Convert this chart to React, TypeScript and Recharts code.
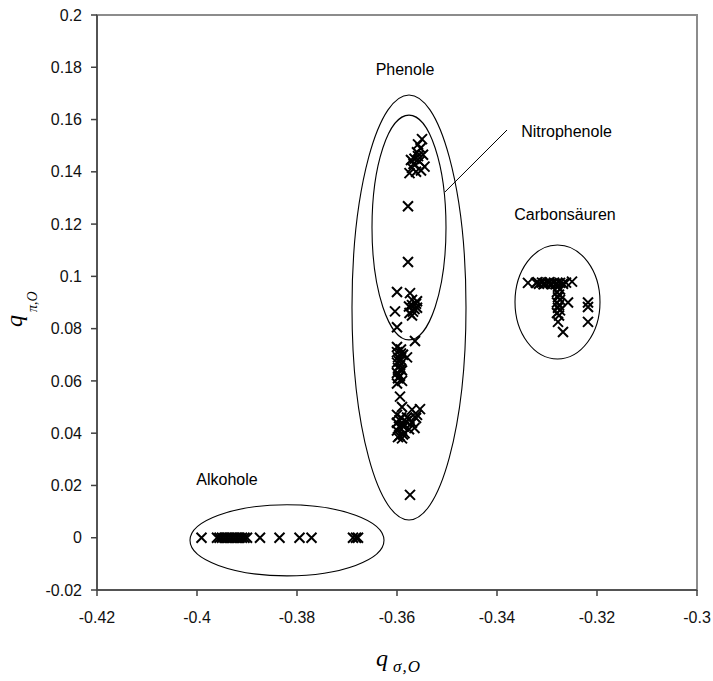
import {
  ScatterChart,
  Scatter,
  XAxis,
  YAxis,
  ReferenceArea,
  ReferenceLine,
  ReferenceDot,
  Label,
} from "recharts"

type Pt = { x: number; y: number }

// x ticks / y ticks
const xTicks = [-0.42, -0.4, -0.38, -0.36, -0.34, -0.32, -0.3]
const yTicks = [-0.02, 0, 0.02, 0.04, 0.06, 0.08, 0.1, 0.12, 0.14, 0.16, 0.18, 0.2]

// Alkohole: all at q_pi = 0
const alkoholeX = [
  -0.3991, -0.396, -0.3955, -0.395, -0.3945, -0.394, -0.3935, -0.393,
  -0.3925, -0.392, -0.3915, -0.391, -0.3905, -0.39, -0.3874, -0.3835,
  -0.3795, -0.3771, -0.3688, -0.3682, -0.3678,
]

// Phenole incl. Nitrophenole
const phenole: [number, number][] = [
  [-0.355, 0.1525], [-0.3553, 0.149], [-0.3548, 0.1465], [-0.356, 0.1475],
  [-0.3565, 0.145], [-0.3555, 0.144], [-0.3545, 0.142], [-0.357, 0.1415],
  [-0.3562, 0.14], [-0.3575, 0.1395], [-0.3558, 0.146], [-0.3567, 0.143],
  [-0.3572, 0.1445], [-0.3558, 0.1505], [-0.3552, 0.1405],
  [-0.3578, 0.1268], [-0.3578, 0.1055],
  [-0.36, 0.094], [-0.3574, 0.0936], [-0.3604, 0.0866], [-0.356, 0.0905],
  [-0.357, 0.089], [-0.3565, 0.0875], [-0.3575, 0.086], [-0.356, 0.088],
  [-0.357, 0.085], [-0.36, 0.0805], [-0.3564, 0.0753], [-0.357, 0.091],
  [-0.3568, 0.0865], [-0.3562, 0.0895], [-0.3576, 0.0885],
  [-0.36, 0.073], [-0.3592, 0.072], [-0.36, 0.071], [-0.3588, 0.07],
  [-0.3598, 0.069], [-0.358, 0.069], [-0.3592, 0.068], [-0.36, 0.067],
  [-0.3594, 0.066], [-0.3598, 0.065], [-0.359, 0.064], [-0.36, 0.063],
  [-0.3594, 0.062], [-0.3598, 0.061], [-0.359, 0.06], [-0.36, 0.059],
  [-0.3592, 0.0705], [-0.3596, 0.0675], [-0.3592, 0.0645], [-0.3596, 0.0615],
  [-0.3594, 0.054], [-0.359, 0.05], [-0.357, 0.049], [-0.3554, 0.0492],
  [-0.356, 0.047], [-0.36, 0.047], [-0.3595, 0.045], [-0.359, 0.043],
  [-0.36, 0.041], [-0.3595, 0.039], [-0.359, 0.038], [-0.36, 0.044],
  [-0.3592, 0.046], [-0.358, 0.046], [-0.357, 0.044], [-0.3565, 0.042],
  [-0.3585, 0.04], [-0.3598, 0.0385], [-0.3586, 0.0425], [-0.3582, 0.0445],
  [-0.3576, 0.0415], [-0.3596, 0.0425], [-0.3588, 0.0395], [-0.3575, 0.0455],
  [-0.3562, 0.0458], [-0.3574, 0.0164],
]

// Carbonsäuren
const carbon: [number, number][] = [
  [-0.3338, 0.0975], [-0.3322, 0.0975], [-0.3316, 0.0972], [-0.331, 0.0976],
  [-0.3304, 0.0973], [-0.3298, 0.0975], [-0.3292, 0.0972], [-0.3286, 0.0976],
  [-0.328, 0.0973], [-0.3274, 0.0975], [-0.3268, 0.0972], [-0.3262, 0.0976],
  [-0.3319, 0.0978], [-0.3307, 0.097], [-0.3295, 0.0978], [-0.3283, 0.097],
  [-0.325, 0.098], [-0.3278, 0.096], [-0.3274, 0.095], [-0.328, 0.094],
  [-0.3276, 0.093], [-0.3278, 0.092], [-0.3274, 0.091], [-0.328, 0.09],
  [-0.3276, 0.089], [-0.3278, 0.088], [-0.3274, 0.087], [-0.328, 0.086],
  [-0.3276, 0.085], [-0.3258, 0.09], [-0.3268, 0.0787], [-0.3278, 0.0826],
  [-0.3218, 0.09], [-0.3218, 0.0883], [-0.3218, 0.0826],
]

// group outlines (data bounds) and annotation spots
const phenoleOval = { x: [-0.369, -0.3462], y: [0.0068, 0.1694] }
const nitroOval = { x: [-0.365, -0.3502], y: [0.0757, 0.1617] }
const carbonOval = { x: [-0.3364, -0.3194], y: [0.0684, 0.112] }
const alkoholOval = { x: [-0.4014, -0.3626], y: [-0.0146, 0.0126] }
const nitroPointer = [
  { x: -0.3504, y: 0.1323 },
  { x: -0.338, y: 0.156 },
]
const groupLabels = [
  { text: "Phenole", x: -0.3584, y: 0.179 },
  { text: "Nitrophenole", x: -0.3261, y: 0.1556 },
  { text: "Carbonsäuren", x: -0.3264, y: 0.1235 },
  { text: "Alkohole", x: -0.394, y: 0.0221 },
]

const points: Pt[] = [
  ...alkoholeX.map((x) => ({ x, y: 0 })),
  ...phenole.map(([x, y]) => ({ x, y })),
  ...carbon.map(([x, y]) => ({ x, y })),
]

const sans = "'Liberation Sans', Arial, sans-serif"
const serif = "'Liberation Serif', 'Times New Roman', serif"

function Cross(props: any) {
  const { cx, cy } = props
  const s = 5
  return (
    <path
      d={`M${cx - s},${cy - s}L${cx + s},${cy + s}M${cx - s},${cy + s}L${cx + s},${cy - s}`}
      stroke="#000"
      strokeWidth={2}
      fill="none"
    />
  )
}

function Oval(p: any) {
  return (
    <ellipse
      cx={p.x + p.width / 2}
      cy={p.y + p.height / 2}
      rx={Math.abs(p.width) / 2}
      ry={Math.abs(p.height) / 2}
      fill="none"
      stroke="#000"
      strokeWidth={1.1}
    />
  )
}

export default function App() {
  return (
    <div style={{ position: "absolute", left: 0, top: 0, background: "#fff" }}>
      <ScatterChart
        width={713}
        height={681}
        margin={{ top: 15, right: 16, left: 37, bottom: 51 }}
      >
        <ReferenceArea
          x1={-0.42}
          x2={-0.3}
          y1={-0.02}
          y2={0.2}
          fill="none"
          stroke="#8c8c8c"
          strokeWidth={2}
        />
        <XAxis
          type="number"
          dataKey="x"
          domain={[-0.42, -0.3]}
          ticks={xTicks}
          tickFormatter={(v) => String(v)}
          stroke="#404040"
          strokeWidth={1.5}
          tickSize={6}
          tickMargin={16}
          height={40}
          tick={{ fill: "#111", fontSize: 16, fontFamily: sans }}
          allowDataOverflow
        >
          <Label
            content={() => (
              <text fontFamily={serif} fontStyle="italic" fill="#000">
                <tspan x={376} y={666} fontSize={24}>q</tspan>
                <tspan x={393} y={672} fontSize={17} letterSpacing={1}>σ,O</tspan>
              </text>
            )}
          />
        </XAxis>
        <YAxis
          type="number"
          dataKey="y"
          domain={[-0.02, 0.2]}
          ticks={yTicks}
          tickFormatter={(v) => String(v)}
          stroke="#404040"
          strokeWidth={1.5}
          tickSize={6}
          tickMargin={9}
          width={60}
          tick={{ fill: "#111", fontSize: 16, fontFamily: sans }}
          allowDataOverflow
        >
          <Label
            content={() => (
              <g transform="translate(22, 327) rotate(-90)">
                <text fontFamily={serif} fontStyle="italic" fill="#000">
                  <tspan x={0} y={0} fontSize={24}>q</tspan>
                  <tspan x={15} y={15} fontSize={14}>π,O</tspan>
                </text>
              </g>
            )}
          />
        </YAxis>
        {[phenoleOval, nitroOval, carbonOval, alkoholOval].map((o, i) => (
          <ReferenceArea
            key={i}
            x1={o.x[0]}
            x2={o.x[1]}
            y1={o.y[0]}
            y2={o.y[1]}
            shape={Oval}
          />
        ))}
        <ReferenceLine segment={nitroPointer} stroke="#000" strokeWidth={1} />
        {groupLabels.map((l) => (
          <ReferenceDot
            key={l.text}
            x={l.x}
            y={l.y}
            shape={(p: any) => (
              <text
                x={p.cx}
                y={p.cy}
                textAnchor="middle"
                dominantBaseline="central"
                fontFamily={sans}
                fontSize={16}
                fill="#000"
              >
                {l.text}
              </text>
            )}
          />
        ))}
        <Scatter data={points} shape={Cross} isAnimationActive={false} />
      </ScatterChart>
    </div>
  )
}
